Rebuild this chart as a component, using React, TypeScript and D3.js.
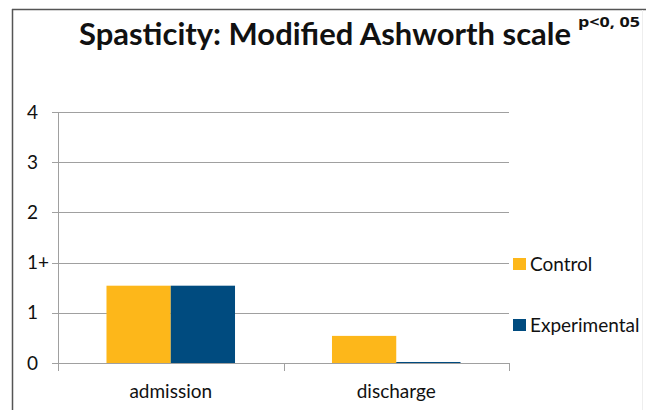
import React from "react";
import * as d3 from "d3";

const categories = ["admission", "discharge"];
const series = ["Control", "Experimental"];
const controlValues = [1.54, 0.54];
const experimentalValues = [1.54, 0.02];
const yTickLabels = ["0", "1", "1+", "2", "3", "4"];
const colors = ["#FDB71A", "#004B7F"];
const title = "Spasticity: Modified Ashworth scale";
const note = "p<0, 05";

export default function App() {
  const W = 646, H = 410;
  const font = "Lato, 'Open Sans', sans-serif";
  const y = d3.scaleLinear().domain([0, yTickLabels.length - 1]).range([363, 112]);
  const x0 = d3.scaleBand().domain(categories).range([58, 509]).paddingInner(0.43).paddingOuter(0.215);
  const x1 = d3.scaleBand().domain(series).range([0, x0.bandwidth()]);
  const outer = d3.scaleBand().domain(categories).range([58, 509]);
  const valuesBySeries = [controlValues, experimentalValues];
  const bounds = [58, ...categories.map((c) => (outer(c) as number) + outer.bandwidth())];

  return (
    <svg width={W} height={H} style={{ position: "absolute", left: 0, top: 0, background: "#fff" }}>
      <rect x={0} y={0} width={W} height={H} fill="#fff" />
      <line x1={12} y1={9.5} x2={W} y2={9.5} stroke="#555" strokeWidth={1.5} />
      <line x1={12.5} y1={9} x2={12.5} y2={H} stroke="#555" strokeWidth={1.5} />
      <line x1={642.5} y1={10} x2={642.5} y2={H} stroke="#eee" strokeWidth={1} />
      <text x={79} y={45} fontFamily={font} fontWeight={700} fontSize={30} fill="#111" textLength={492} lengthAdjust="spacingAndGlyphs">{title}</text>
      <text x={578} y={27} fontFamily="'Open Sans', sans-serif" fontWeight={700} fontSize={15} fill="#111" textLength={62} lengthAdjust="spacingAndGlyphs">{note}</text>
      {yTickLabels.map((t, i) => (
        <g key={t}>
          <line x1={52} x2={509} y1={Math.round(y(i)) + 0.5} y2={Math.round(y(i)) + 0.5} stroke="#a0a0a0" strokeWidth={1} />
          <text x={27} y={y(i) + 6.5} fontFamily={font} fontSize={19} fill="#111">{t}</text>
        </g>
      ))}
      <line x1={58.5} x2={58.5} y1={112} y2={371} stroke="#a0a0a0" strokeWidth={1} />
      {bounds.map((b, i) => (
        <line key={i} x1={Math.round(b) + 0.5} x2={Math.round(b) + 0.5} y1={363} y2={371} stroke="#a0a0a0" strokeWidth={1} />
      ))}
      {categories.map((c, ci) => (
        <g key={c}>
          {series.map((s, si) => {
            const v = valuesBySeries[si][ci];
            const bx = (x0(c) as number) + (x1(s) as number);
            return <rect key={s} x={bx} y={y(v)} width={x1.bandwidth()} height={y(0) - y(v)} fill={colors[si]} />;
          })}
          <text x={(outer(c) as number) + outer.bandwidth() / 2} y={398} textAnchor="middle" fontFamily={font} fontSize={19} fill="#111">{c}</text>
        </g>
      ))}
      {series.map((s, si) => (
        <g key={s} transform={`translate(513, ${258 + si * 61})`}>
          <rect x={0} y={0} width={13} height={12} fill={colors[si]} />
          <text x={17} y={12.5} fontFamily={font} fontSize={19} fill="#111">{s}</text>
        </g>
      ))}
    </svg>
  );
}
